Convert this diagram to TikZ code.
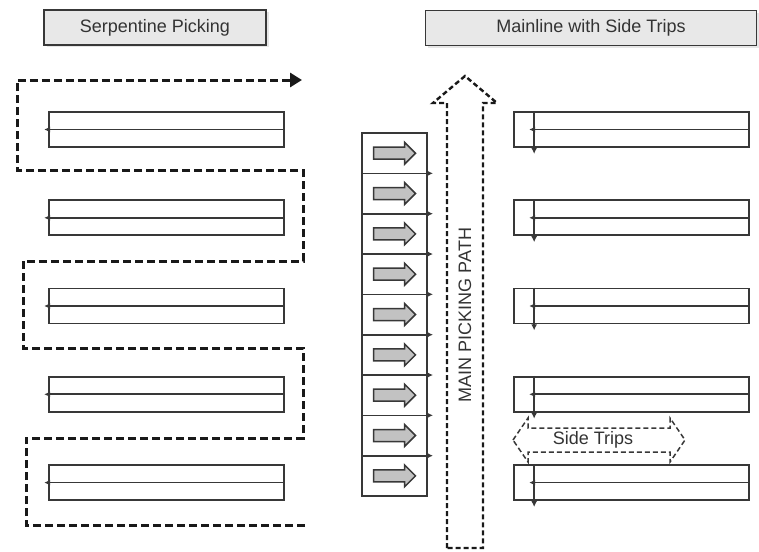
\documentclass[tikz,border=0pt]{standalone}
\usepackage{fontspec}
\setmainfont{Liberation Sans}
\usetikzlibrary{arrows.meta}
\usetikzlibrary{positioning}
\usetikzlibrary{shadows}

% Farben
\definecolor{rackcolor}{rgb}{0.22, 0.22, 0.22}
\definecolor{pathcolor}{rgb}{0.1, 0.1, 0.1}
\definecolor{titlefill}{rgb}{0.91, 0.91, 0.91}
\definecolor{arrowfill}{rgb}{0.76, 0.76, 0.76}
\definecolor{textcolor}{rgb}{0.2, 0.2, 0.2}

\begin{document}
\begin{tikzpicture}[x=1pt, y=-1pt,
    every node/.style={font=\fontsize{18}{20}\selectfont, text=textcolor},
    titlebox/.style={draw=rackcolor, line width=1.6pt, fill=titlefill, inner sep=0pt,
        minimum height=35pt, drop shadow={opacity=0.2, shadow xshift=2.5pt, shadow yshift=-2.5pt}},
    rack/.style={draw=rackcolor, line width=1.7pt, minimum width=235pt, minimum height=35pt, inner sep=0pt},
    aisle/.style={draw=rackcolor, line width=1.7pt, -{Latex[length=6pt, width=6pt]}},
    cell/.style={draw=rackcolor, line width=1.7pt, minimum width=65pt, minimum height=40.33pt,
        inner sep=0pt, outer sep=0pt},
    blockarrow/.style={draw=rackcolor, line width=1.5pt, fill=arrowfill, line join=miter},
    serpentine/.style={draw=pathcolor, line width=3pt, dash pattern=on 8pt off 4pt,
        -{Triangle[length=12pt, width=14pt]}},
    mainpath/.style={draw=pathcolor, line width=2.4pt, dash pattern=on 5pt off 3pt},
    sidepath/.style={draw=rackcolor, line width=1.5pt, dash pattern=on 5pt off 3pt}]

    \useasboundingbox (0,0) rectangle (759,551);

    % Ueberschriften
    \node[titlebox, minimum width=222pt] (tleft) at (155,27.5) {Serpentine Picking};
    \node[titlebox, minimum width=331pt] (tright) at (591,28) {Mainline with Side Trips};

    % Regale links und rechts
    \foreach \i/\y in {1/129.5, 2/217.8, 3/306, 4/394.3, 5/482.6} {
        \node[rack] (L\i) at (166.5,\y) {};
        \draw[aisle] (L\i.east) -- ([xshift=-4pt]L\i.west);
        \node[rack] (R\i) at (631.5,\y) {};
        \draw[aisle] (R\i.east) -- ([xshift=16pt]R\i.west);
        \draw[aisle] ([xshift=21pt]R\i.north west) -- ([xshift=21pt, yshift=-6pt]R\i.south west);
    }

    % Serpentinen-Weg
    \coordinate (S0) at (305,525);
    \coordinate (S1) at (26,525);
    \coordinate (S2) at (26,438);
    \coordinate (S3) at (303,438);
    \coordinate (S4) at (303,348);
    \coordinate (S5) at (23,348);
    \coordinate (S6) at (23,261);
    \coordinate (S7) at (303,261);
    \coordinate (S8) at (303,170);
    \coordinate (S9) at (17,170);
    \coordinate (S10) at (17,80);
    \coordinate (S11) at (302,80);
    \draw[serpentine] (S0) -- (S1) -- (S2) -- (S3) -- (S4) -- (S5) -- (S6)
        -- (S7) -- (S8) -- (S9) -- (S10) -- (S11);

    % Zellen mit Pfeilen
    \node[cell] (c1) at (394.5,153.2) {};
    \foreach \i [count=\j from 2] in {1,...,8}
        \node[cell, below=0pt of c\i] (c\j) {};
    \foreach \i in {1,...,9}
        \draw[blockarrow] ([shift={(-21,-6)}]c\i.center) -- ++(31,0) -- ++(0,-5) -- ++(11,11)
            -- ++(-11,11) -- ++(0,-5) -- ++(-31,0) -- cycle;
    \foreach \i in {1,...,8}
        \draw[aisle] (c\i.south west) -- ([xshift=6pt]c\i.south east);

    % Hauptweg
    \draw[mainpath] (447,548) -- (447,103) -- (433,103) -- (465,76) -- (497,103)
        -- (483,103) -- (483,548) -- cycle;
    \node[rotate=90] (main) at (465,315) {MAIN PICKING PATH};

    % Abstecher
    \draw[sidepath] (513,440) -- (528,418) -- (528,428) -- (670,428) -- (670,418)
        -- (685,440) -- (670,462) -- (670,452) -- (528,452) -- (528,462) -- cycle;
    \node (side) at (593,440) {Side Trips};

\end{tikzpicture}
\end{document}
